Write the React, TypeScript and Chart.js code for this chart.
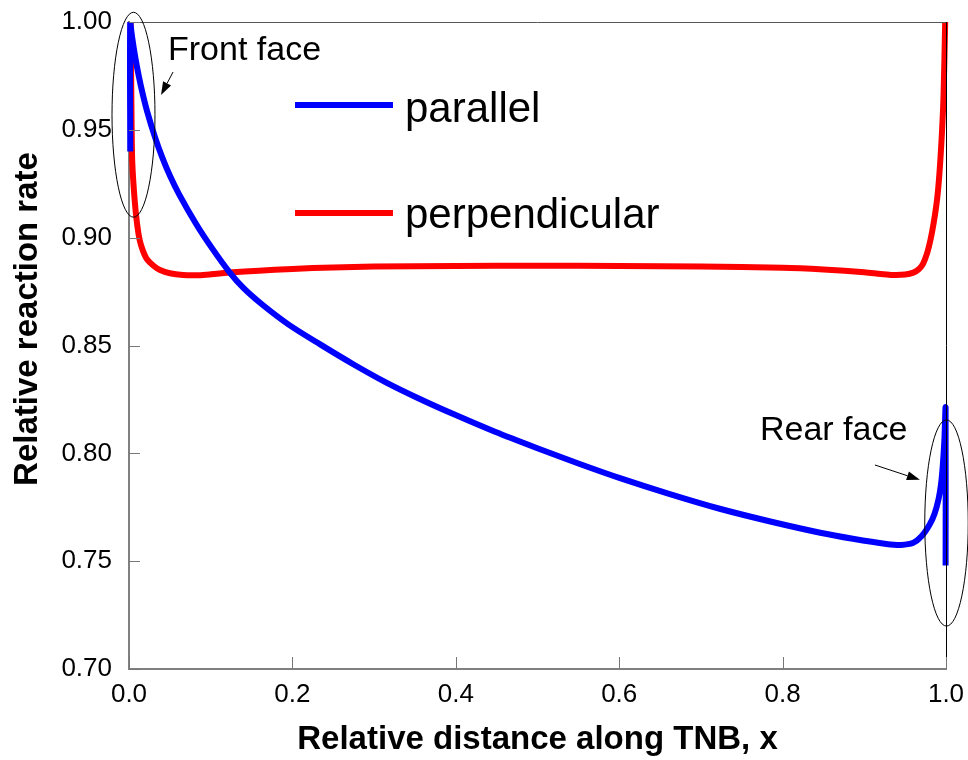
import React, { useEffect, useRef } from "react";
import { Chart, registerables } from "chart.js";

Chart.register(...registerables);

// ---- data ----
const parallelX = [0.0015, 0.0015, 0.004, 0.008, 0.012, 0.0163, 0.022, 0.0318, 0.0408, 0.05, 0.0612, 0.0816, 0.102, 0.1224, 0.14, 0.163, 0.195, 0.234, 0.275, 0.315, 0.356, 0.397, 0.448, 0.499, 0.55, 0.601, 0.662, 0.723, 0.785, 0.846, 0.886, 0.927, 0.945, 0.96, 0.97, 0.98, 0.986, 0.991, 0.994, 0.996, 0.998, 0.9995, 0.9995];
const parallelY = [0.940, 1.000, 0.9925, 0.9829, 0.9749, 0.9674, 0.9588, 0.9466, 0.9371, 0.9288, 0.9202, 0.9067, 0.8949, 0.8843, 0.8767, 0.8690, 0.8598, 0.8505, 0.8412, 0.8328, 0.8252, 0.8182, 0.8100, 0.8025, 0.7953, 0.7885, 0.7811, 0.7743, 0.7684, 0.7632, 0.7604, 0.7580, 0.7575, 0.7585, 0.7615, 0.767, 0.772, 0.779, 0.786, 0.794, 0.806, 0.821, 0.748];

const perpX = [0.002, 0.003, 0.004, 0.007, 0.01, 0.013, 0.017, 0.022, 0.03, 0.038, 0.05, 0.066, 0.085, 0.1, 0.127, 0.2, 0.25, 0.3, 0.4, 0.5, 0.6, 0.7, 0.8, 0.85, 0.9, 0.92, 0.935, 0.95, 0.96, 0.967, 0.972, 0.977, 0.981, 0.985, 0.989, 0.992, 0.995, 0.997, 0.999];
const perpY = [1.000, 0.960, 0.935, 0.917, 0.906, 0.899, 0.894, 0.890, 0.887, 0.885, 0.8835, 0.8827, 0.8826, 0.883, 0.884, 0.8855, 0.8862, 0.8866, 0.8869, 0.887, 0.8869, 0.8866, 0.886, 0.8852, 0.884, 0.8832, 0.8827, 0.8829, 0.8838, 0.8855, 0.888, 0.893, 0.899, 0.907, 0.9175, 0.930, 0.9485, 0.966, 1.000];

const seriesLabels = ["parallel", "perpendicular"];
const seriesColors = ["#0000ff", "#ff0000"];

const xTickValues = [0, 0.2, 0.4, 0.6, 0.8, 1.0];
const yTickValues = [0.7, 0.75, 0.8, 0.85, 0.9, 0.95, 1.0];

// annotations (data coordinates)
const ellipseCenters = [[0.0055, 0.957], [1.0006, 0.7677]];
const ellipseRadii = [[0.0263, 0.0475], [0.0266, 0.0478]];
const noteTexts = ["Front face", "Rear face"];
const notePos = [[0.0477, 0.9824], [0.7723, 0.8062]];
const arrowFrom = [[0.0539, 0.9768], [0.913, 0.7946]];
const arrowTo = [[0.0392, 0.9662], [0.968, 0.7877]];
const legendLineX = [0.2032, 0.3231];
const legendLineY = [0.9615, 0.9114];
const legendTextX = 0.3378;
const legendTextY = [0.9536, 0.9045];

const FONT = "'Liberation Sans', Arial, Helvetica, sans-serif";

const toPts = (xs: number[], ys: number[]) => xs.map((x, i) => ({ x, y: ys[i] }));

const overlayPlugin = {
  id: "overlay",
  afterDatasetsDraw(chart: any) {
    const { ctx, chartArea, scales } = chart;
    const xs = scales.x;
    const ys = scales.y;
    const px = (v: number) => xs.getPixelForValue(v);
    const py = (v: number) => ys.getPixelForValue(v);
    ctx.save();

    // frame top and right
    ctx.lineWidth = 1;
    ctx.strokeStyle = "#555555";
    ctx.beginPath();
    ctx.moveTo(chartArea.left, chartArea.top + 0.5);
    ctx.lineTo(chartArea.right, chartArea.top + 0.5);
    ctx.stroke();
    ctx.strokeStyle = "#000000";
    ctx.beginPath();
    ctx.moveTo(chartArea.right + 0.5, chartArea.top);
    ctx.lineTo(chartArea.right + 0.5, chartArea.bottom);
    ctx.stroke();

    // inward ticks
    ctx.strokeStyle = "#777777";
    ctx.lineWidth = 1;
    xTickValues.forEach((v) => {
      const x = Math.round(px(v)) + 0.5;
      ctx.beginPath();
      ctx.moveTo(x, chartArea.bottom);
      ctx.lineTo(x, chartArea.bottom - 12);
      ctx.stroke();
    });
    yTickValues.forEach((v) => {
      const y = Math.round(py(v)) + 0.5;
      ctx.beginPath();
      ctx.moveTo(chartArea.left, y);
      ctx.lineTo(chartArea.left + 11, y);
      ctx.stroke();
    });

    // ellipses
    ctx.strokeStyle = "#000000";
    ctx.lineWidth = 1;
    ellipseCenters.forEach((c, i) => {
      const cx = px(c[0]);
      const cy = py(c[1]);
      const rx = Math.abs(px(c[0] + ellipseRadii[i][0]) - cx);
      const ry = Math.abs(py(c[1] + ellipseRadii[i][1]) - cy);
      ctx.beginPath();
      ctx.ellipse(cx, cy, rx, ry, 0, 0, Math.PI * 2);
      ctx.stroke();
    });

    // arrows
    arrowFrom.forEach((f, i) => {
      const x1 = px(f[0]), y1 = py(f[1]);
      const x2 = px(arrowTo[i][0]), y2 = py(arrowTo[i][1]);
      const ang = Math.atan2(y2 - y1, x2 - x1);
      const hl = 13, hw = 4.5;
      const bx = x2 - hl * Math.cos(ang), by = y2 - hl * Math.sin(ang);
      ctx.strokeStyle = "#000000";
      ctx.lineWidth = 1;
      ctx.beginPath();
      ctx.moveTo(x1, y1);
      ctx.lineTo(bx, by);
      ctx.stroke();
      ctx.fillStyle = "#000000";
      ctx.beginPath();
      ctx.moveTo(x2, y2);
      ctx.lineTo(bx + hw * Math.sin(ang), by - hw * Math.cos(ang));
      ctx.lineTo(bx - hw * Math.sin(ang), by + hw * Math.cos(ang));
      ctx.closePath();
      ctx.fill();
    });

    // notes
    ctx.fillStyle = "#000000";
    ctx.font = `34px ${FONT}`;
    ctx.textAlign = "left";
    ctx.textBaseline = "alphabetic";
    noteTexts.forEach((t, i) => {
      ctx.fillText(t, px(notePos[i][0]), py(notePos[i][1]));
    });

    // legend
    chart.data.datasets.forEach((ds: any, i: number) => {
      ctx.strokeStyle = ds.borderColor;
      ctx.lineWidth = 6;
      ctx.beginPath();
      ctx.moveTo(px(legendLineX[0]), py(legendLineY[i]));
      ctx.lineTo(px(legendLineX[1]), py(legendLineY[i]));
      ctx.stroke();
      ctx.fillStyle = "#000000";
      ctx.font = `42px ${FONT}`;
      ctx.fillText(ds.label, px(legendTextX), py(legendTextY[i]));
    });

    // y axis title
    ctx.save();
    ctx.translate(27.5, 319);
    ctx.rotate(-Math.PI / 2);
    ctx.font = `bold 33px ${FONT}`;
    ctx.textAlign = "center";
    ctx.textBaseline = "middle";
    ctx.fillText("Relative reaction rate", 0, 0);
    ctx.restore();

    ctx.restore();
  },
};

const zeroPad = (s: any) => {
  s.paddingTop = 0;
  s.paddingBottom = 0;
  s.paddingLeft = 0;
  s.paddingRight = 0;
};

export default function App() {
  const canvasRef = useRef<HTMLCanvasElement | null>(null);

  useEffect(() => {
    if (!canvasRef.current) return;
    const lineStyle = {
      borderWidth: 6,
      pointRadius: 0,
      tension: 0.3,
      fill: false,
      borderJoinStyle: "round" as const,
      clip: { left: 6, top: 0, right: 6, bottom: 0 },
    };
    const chart = new Chart(canvasRef.current, {
      type: "line",
      data: {
        datasets: [
          {
            label: seriesLabels[0],
            data: toPts(parallelX, parallelY),
            borderColor: seriesColors[0],
            backgroundColor: seriesColors[0],
            ...lineStyle,
          },
          {
            label: seriesLabels[1],
            data: toPts(perpX, perpY),
            borderColor: seriesColors[1],
            backgroundColor: seriesColors[1],
            ...lineStyle,
          },
        ],
      },
      options: {
        animation: false,
        responsive: false,
        layout: { padding: { top: 22, right: 22, left: 0, bottom: 0 } },
        plugins: {
          legend: { display: false },
          tooltip: { enabled: false },
        },
        scales: {
          x: {
            type: "linear",
            min: 0,
            max: 1,
            grid: { display: false, drawTicks: false },
            border: { display: true, color: "#808080", width: 2 },
            ticks: {
              stepSize: 0.2,
              color: "#000000",
              font: { family: FONT, size: 26 },
              padding: 10,
              maxRotation: 0,
              callback: (v: any) => Number(v).toFixed(1),
            },
            title: {
              display: true,
              text: "Relative distance along TNB, x",
              color: "#000000",
              font: { family: FONT, size: 33, weight: "bold" },
              padding: { top: 0, bottom: 0 },
            },
            afterFit: (s: any) => {
              s.height = 91;
              zeroPad(s);
            },
          },
          y: {
            type: "linear",
            min: 0.7,
            max: 1.0,
            grid: { display: false, drawTicks: false },
            border: { display: true, color: "#808080", width: 2 },
            ticks: {
              stepSize: 0.05,
              color: "#000000",
              font: { family: FONT, size: 26 },
              padding: 17,
              callback: (v: any) => Number(v).toFixed(2),
            },
            afterFit: (s: any) => {
              s.width = 129;
              zeroPad(s);
            },
          },
        },
      },
      plugins: [overlayPlugin],
    });
    return () => chart.destroy();
  }, []);

  return (
    <div style={{ position: "absolute", left: 0, top: 0, width: 968, height: 760, background: "#ffffff" }}>
      <canvas ref={canvasRef} width={968} height={760} style={{ display: "block" }} />
    </div>
  );
}
